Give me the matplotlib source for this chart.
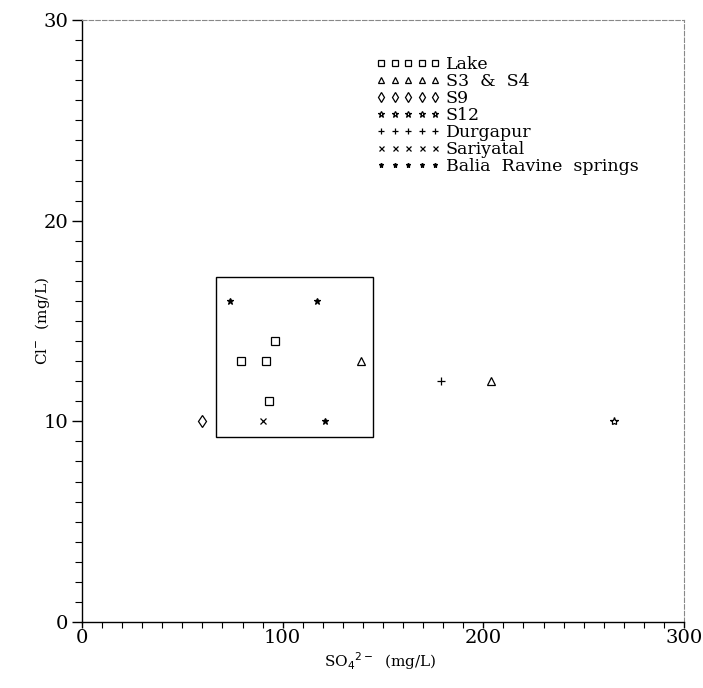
import matplotlib
matplotlib.use('Agg')
import matplotlib.pyplot as plt
from matplotlib.patches import Rectangle
from matplotlib.ticker import MultipleLocator

# data
lake_x = [79, 91.5, 96, 93]
lake_y = [13, 13, 14, 11]
s3s4_x = [139, 204]
s3s4_y = [13, 12]
s9_x = [60]
s9_y = [10]
s12_x = [265]
s12_y = [10]
durgapur_x = [179]
durgapur_y = [12]
sariyatal_x = [90]
sariyatal_y = [10]
balia_x = [74, 117, 121]
balia_y = [16, 16, 10]

# box around the cluster (x0, y0, x1, y1)
box = [66.7, 9.2, 144.8, 17.2]

plt.rcParams['font.family'] = 'DejaVu Serif'

fig = plt.figure(figsize=(7.03, 6.88), dpi=100)
ax = fig.add_axes([0.1166, 0.0959, 0.8564, 0.8750])

kw = dict(linestyle='none', color='black', markersize=6, markeredgewidth=0.9)
ax.plot(lake_x, lake_y, marker='s', markerfacecolor='none', label='Lake', **kw)
ax.plot(s3s4_x, s3s4_y, marker='^', markerfacecolor='none', label='S3  &  S4', **kw)
ax.plot(s9_x, s9_y, marker='d', markerfacecolor='none', label='S9', **kw)
ax.plot(s12_x, s12_y, marker='*', markerfacecolor='none', label='S12', **kw)
ax.plot(durgapur_x, durgapur_y, marker='+', label='Durgapur', **kw)
ax.plot(sariyatal_x, sariyatal_y, marker='x', label='Sariyatal', **dict(kw, markersize=4.5))
ax.plot(balia_x, balia_y, marker='*', label='Balia  Ravine  springs', **dict(kw, markersize=4.5))

ax.add_patch(Rectangle((box[0], box[1]), box[2] - box[0], box[3] - box[1],
                       fill=False, edgecolor='black', linewidth=1.0))

ax.set_xlim(0, 300)
ax.set_ylim(0, 30)
ax.xaxis.set_major_locator(MultipleLocator(100))
ax.xaxis.set_minor_locator(MultipleLocator(10))
ax.yaxis.set_major_locator(MultipleLocator(10))
ax.yaxis.set_minor_locator(MultipleLocator(1))
ax.tick_params(axis='x', which='major', direction='out', length=4, width=1, labelsize=14, pad=1)
ax.tick_params(axis='x', which='minor', direction='out', length=4, width=0.8)
ax.tick_params(axis='y', which='major', direction='out', length=7, width=1, labelsize=14, pad=3)
ax.tick_params(axis='y', which='minor', direction='out', length=5, width=0.8)

for s in ['top', 'right']:
    ax.spines[s].set_linestyle((0, (4, 2)))
    ax.spines[s].set_color('#888888')
    ax.spines[s].set_linewidth(0.8)
for s in ['left', 'bottom']:
    ax.spines[s].set_linewidth(1.0)

ax.set_xlabel('SO$_4$$^{2-}$  (mg/L)', fontsize=11)
ax.set_ylabel('Cl$^{-}$  (mg/L)', fontsize=11)
ax.xaxis.set_label_coords(0.495, -0.047)
ax.yaxis.set_label_coords(-0.05, 0.5)

ax.legend(loc='upper left', bbox_to_anchor=(0.477, 0.952), frameon=False,
          numpoints=5, handlelength=3.7, handletextpad=0.3, labelspacing=0.0,
          fontsize=12.5, markerscale=0.8, borderaxespad=0)

fig.savefig('out.png', dpi=100)
